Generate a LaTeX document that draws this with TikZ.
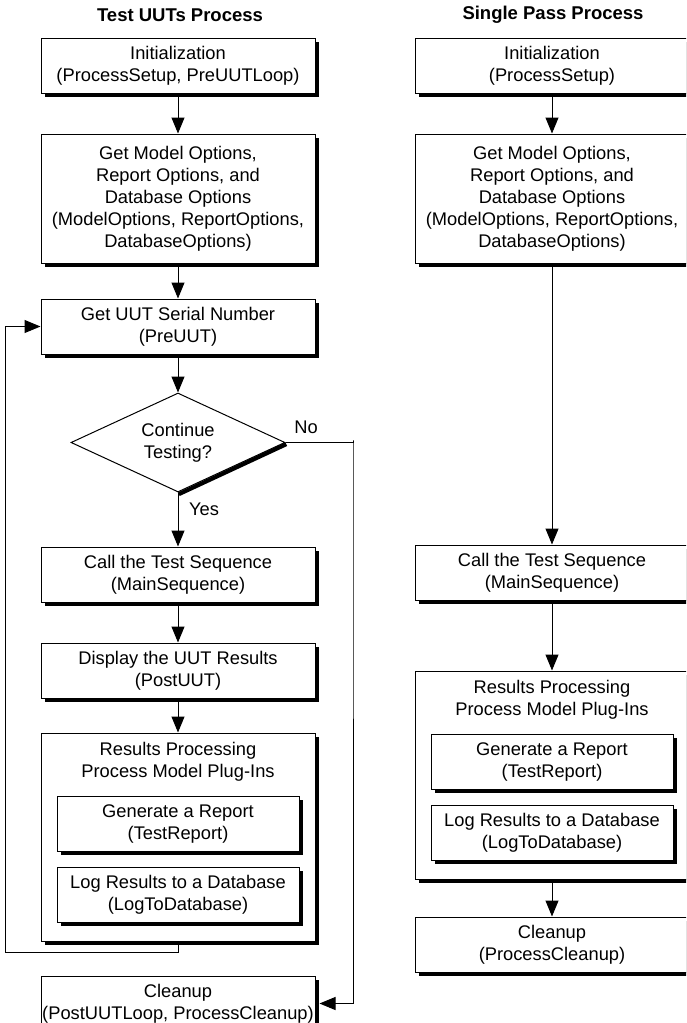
\documentclass[tikz,border=0pt]{standalone}
\usepackage{fontspec}
\setmainfont{Liberation Sans}
\usetikzlibrary{positioning,shapes.geometric,shadows,arrows.meta}

\begin{document}
\begin{tikzpicture}[x=1pt, y=-1pt, line width=1pt,
    >={Triangle[length=16pt,width=13pt]},
    font=\fontsize{18.3}{22}\selectfont,
    title/.style = {font=\fontsize{18.5}{22}\selectfont\bfseries},
    box/.style = {draw, fill=white, align=center, minimum width=274pt, minimum height=55pt, inner xsep=1pt, inner ysep=2pt,
        drop shadow={shadow xshift=4pt, shadow yshift=-4pt, opacity=1, fill=black}},
    sub/.style = {box, minimum width=242pt},
    decide/.style = {draw, fill=white, diamond, aspect=2.16, align=center, minimum width=214pt, minimum height=99pt, inner sep=0pt}]
    \clip (0,0) rectangle (686,1023);

    % titles
    \node[title] (ttest) at (180,15) {Test UUTs Process};
    \node[title] (tsingle) at (553,15) {Single Pass Process};

    % test UUTs process
    \node[box] (init) at (178,65.5) {Initialization\\(ProcessSetup, PreUUTLoop)};
    \node[box, minimum height=129pt] (opts) [below=40pt of init] {Get Model Options,\\Report Options, and\\Database Options\\(ModelOptions, ReportOptions,\\DatabaseOptions)};
    \node[box] (sn) [below=35pt of opts] {Get UUT Serial Number\\(PreUUT)};
    \node[decide] (cont) [below=38pt of sn] {Continue\\Testing?};
    \draw[line width=4pt] ([shift={(0.8pt,-1.7pt)}]cont.east) -- ([shift={(0.8pt,-1.7pt)}]cont.south);
    \node[box] (call) [below=54pt of cont] {Call the Test Sequence\\(MainSequence)};
    \node[box] (disp) [below=40pt of call] {Display the UUT Results\\(PostUUT)};
    \node[box, minimum height=208pt] (res) [below=34pt of disp] {};
    \node[align=center] (restitle) at ([yshift=-29pt]res.north) {Results Processing\\Process Model Plug-Ins};
    \node[sub] (rep) [below=63pt of res.north] {Generate a Report\\(TestReport)};
    \node[sub] (log) [below=15pt of rep] {Log Results to a Database\\(LogToDatabase)};
    \node[box] (cln) [below=34pt of res] {Cleanup\\(PostUUTLoop, ProcessCleanup)};

    \node (yes) at (204,509) {Yes};
    \node (no) at (306,427) {No};
    \coordinate (back) at (5,952);
    \coordinate (nobend) at (353,440);

    \draw[->] (init) -- (opts);
    \draw[->] (opts) -- (sn);
    \draw[->] (sn) -- (cont);
    \draw[->] (cont) -- (call);
    \draw[->] (call) -- (disp);
    \draw[->] (disp) -- (res);
    \draw[->] (res.south) |- (back) |- (sn.west);
    \draw[->] (cont.east) -| (nobend) |- ([xshift=4pt]cln.east);

    % single pass process
    \node[box] (init2) at (552,65.5) {Initialization\\(ProcessSetup)};
    \node[box, minimum height=129pt] (opts2) [below=40pt of init2] {Get Model Options,\\Report Options, and\\Database Options\\(ModelOptions, ReportOptions,\\DatabaseOptions)};
    \node[box] (call2) [below=281pt of opts2] {Call the Test Sequence\\(MainSequence)};
    \node[box, minimum height=208pt] (res2) [below=70pt of call2] {};
    \node[align=center] (restitle2) at ([yshift=-29pt]res2.north) {Results Processing\\Process Model Plug-Ins};
    \node[sub] (rep2) [below=63pt of res2.north] {Generate a Report\\(TestReport)};
    \node[sub] (log2) [below=15pt of rep2] {Log Results to a Database\\(LogToDatabase)};
    \node[box] (cln2) [below=37pt of res2] {Cleanup\\(ProcessCleanup)};

    \draw[->] (init2) -- (opts2);
    \draw[->] (opts2) -- (call2);
    \draw[->] (call2) -- (res2);
    \draw[->] (res2) -- (cln2);

\end{tikzpicture}
\end{document}
